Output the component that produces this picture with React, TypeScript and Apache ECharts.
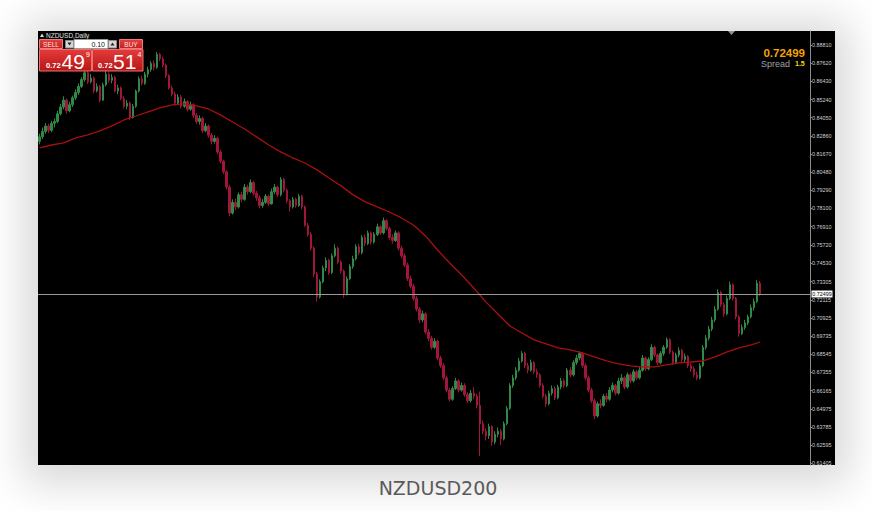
import React, { useEffect, useRef } from "react";
import * as echarts from "echarts";

const symbolTitle = "NZDUSD,Daily";
const caption = "NZDUSD200";
const lastPrice = 0.72499;
const spreadLabel = "Spread";
const spreadValue = "1.5";
const lotSize = "0.10";
const bidParts = ["0.72", "49", "9"];
const askParts = ["0.72", "51", "4"];

const tickValues = [
  0.8881, 0.8762, 0.8643, 0.8524, 0.8405, 0.8286, 0.8167, 0.8048, 0.7929, 0.781,
  0.7691, 0.7572, 0.7453, 0.73305, 0.72115, 0.70925, 0.69735, 0.68545, 0.67355,
  0.66165, 0.64975, 0.63785, 0.62595, 0.61405,
];

// [open, close, low, high]
const candles: number[][] = [
  [0.825, 0.828, 0.823, 0.83], [0.828, 0.8315, 0.8265, 0.834], [0.8315, 0.835, 0.83, 0.837], [0.835, 0.8322, 0.8305, 0.8365],
  [0.8322, 0.8368, 0.831, 0.8385], [0.8368, 0.838, 0.834, 0.84], [0.838, 0.843, 0.837, 0.845], [0.843, 0.8475, 0.842, 0.8495],
  [0.8475, 0.852, 0.846, 0.8545], [0.852, 0.845, 0.843, 0.853], [0.845, 0.849, 0.844, 0.851], [0.849, 0.8535, 0.8475, 0.855],
  [0.8535, 0.857, 0.852, 0.859], [0.857, 0.861, 0.8555, 0.863], [0.861, 0.8655, 0.86, 0.867], [0.8655, 0.87, 0.864, 0.8715],
  [0.87, 0.864, 0.8625, 0.871], [0.864, 0.8665, 0.863, 0.869], [0.8665, 0.858, 0.8565, 0.8675], [0.858, 0.861, 0.857, 0.863],
  [0.861, 0.852, 0.8505, 0.862], [0.852, 0.862, 0.8515, 0.8635], [0.862, 0.869, 0.861, 0.871], [0.869, 0.865, 0.8635, 0.87],
  [0.865, 0.867, 0.863, 0.869], [0.867, 0.858, 0.857, 0.868], [0.858, 0.86, 0.856, 0.862], [0.86, 0.853, 0.852, 0.861],
  [0.853, 0.848, 0.8465, 0.8545], [0.848, 0.85, 0.846, 0.852], [0.85, 0.8405, 0.839, 0.851], [0.8405, 0.848, 0.84, 0.8495],
  [0.848, 0.858, 0.847, 0.859], [0.858, 0.866, 0.857, 0.8675], [0.866, 0.863, 0.8615, 0.868], [0.863, 0.869, 0.862, 0.8705],
  [0.869, 0.872, 0.867, 0.874], [0.872, 0.876, 0.8705, 0.8775], [0.876, 0.8735, 0.8715, 0.878], [0.8735, 0.882, 0.8725, 0.8835],
  [0.882, 0.879, 0.8775, 0.883], [0.879, 0.875, 0.8735, 0.8805], [0.875, 0.868, 0.8665, 0.876], [0.868, 0.86, 0.859, 0.869],
  [0.86, 0.856, 0.8545, 0.8615], [0.856, 0.85, 0.8485, 0.8575], [0.85, 0.854, 0.849, 0.856], [0.854, 0.848, 0.8465, 0.8555],
  [0.848, 0.851, 0.847, 0.853], [0.851, 0.846, 0.8445, 0.852], [0.846, 0.849, 0.845, 0.851], [0.849, 0.842, 0.8405, 0.85],
  [0.842, 0.838, 0.8365, 0.8435], [0.838, 0.84, 0.836, 0.842], [0.84, 0.832, 0.8305, 0.841], [0.832, 0.835, 0.831, 0.837],
  [0.835, 0.829, 0.8275, 0.836], [0.829, 0.825, 0.823, 0.8305], [0.825, 0.827, 0.8235, 0.829], [0.827, 0.818, 0.8165, 0.828],
  [0.818, 0.812, 0.8105, 0.8195], [0.812, 0.805, 0.8035, 0.813], [0.805, 0.795, 0.7935, 0.806], [0.795, 0.778, 0.776, 0.7965],
  [0.778, 0.785, 0.777, 0.787], [0.785, 0.782, 0.78, 0.7875], [0.782, 0.79, 0.781, 0.7915], [0.79, 0.787, 0.785, 0.792],
  [0.787, 0.795, 0.786, 0.797], [0.795, 0.792, 0.79, 0.7965], [0.792, 0.798, 0.791, 0.8], [0.798, 0.791, 0.7895, 0.799],
  [0.791, 0.788, 0.786, 0.7925], [0.788, 0.783, 0.781, 0.7895], [0.783, 0.785, 0.7815, 0.787], [0.785, 0.789, 0.784, 0.7905],
  [0.789, 0.784, 0.7825, 0.79], [0.784, 0.792, 0.7835, 0.794], [0.792, 0.795, 0.7905, 0.797], [0.795, 0.79, 0.7885, 0.796],
  [0.79, 0.8, 0.789, 0.8015], [0.8, 0.793, 0.7915, 0.801], [0.793, 0.786, 0.7845, 0.794], [0.786, 0.782, 0.779, 0.787],
  [0.782, 0.787, 0.781, 0.7885], [0.787, 0.783, 0.7815, 0.788], [0.783, 0.789, 0.782, 0.7905], [0.789, 0.782, 0.7805, 0.79],
  [0.782, 0.77, 0.769, 0.783], [0.77, 0.764, 0.7625, 0.7715], [0.764, 0.755, 0.7535, 0.7655], [0.755, 0.738, 0.736, 0.756],
  [0.738, 0.723, 0.72, 0.7395], [0.723, 0.733, 0.722, 0.7345], [0.733, 0.742, 0.732, 0.7435], [0.742, 0.747, 0.74, 0.749],
  [0.747, 0.739, 0.7375, 0.748], [0.739, 0.75, 0.738, 0.7515], [0.75, 0.755, 0.749, 0.7575], [0.755, 0.746, 0.7445, 0.756],
  [0.746, 0.74, 0.7385, 0.747], [0.74, 0.725, 0.7225, 0.741], [0.725, 0.735, 0.724, 0.7365], [0.735, 0.743, 0.734, 0.7445],
  [0.743, 0.748, 0.7415, 0.75], [0.748, 0.756, 0.747, 0.7575], [0.756, 0.752, 0.7505, 0.758], [0.752, 0.762, 0.751, 0.7635],
  [0.762, 0.758, 0.7565, 0.764], [0.758, 0.765, 0.757, 0.7665], [0.765, 0.759, 0.7575, 0.766], [0.759, 0.764, 0.758, 0.7655],
  [0.764, 0.769, 0.763, 0.771], [0.769, 0.765, 0.7635, 0.77], [0.765, 0.773, 0.764, 0.775], [0.773, 0.768, 0.7665, 0.774],
  [0.768, 0.762, 0.7605, 0.769], [0.762, 0.76, 0.758, 0.764], [0.76, 0.765, 0.759, 0.7665], [0.765, 0.755, 0.7535, 0.766],
  [0.755, 0.75, 0.7485, 0.7565], [0.75, 0.744, 0.7425, 0.7515], [0.744, 0.735, 0.7335, 0.7455], [0.735, 0.73, 0.7285, 0.737],
  [0.73, 0.722, 0.7205, 0.7315], [0.722, 0.715, 0.7135, 0.7235], [0.715, 0.708, 0.706, 0.7165], [0.708, 0.712, 0.7065, 0.714],
  [0.712, 0.7, 0.6985, 0.713], [0.7, 0.696, 0.694, 0.702], [0.696, 0.69, 0.6885, 0.6975], [0.69, 0.694, 0.689, 0.696],
  [0.694, 0.683, 0.6815, 0.695], [0.683, 0.678, 0.6765, 0.6845], [0.678, 0.67, 0.6685, 0.6795], [0.67, 0.662, 0.6605, 0.6715],
  [0.662, 0.656, 0.6545, 0.6635], [0.656, 0.663, 0.655, 0.6645], [0.663, 0.668, 0.662, 0.67], [0.668, 0.662, 0.6605, 0.669],
  [0.662, 0.665, 0.661, 0.667], [0.665, 0.659, 0.6575, 0.6665], [0.659, 0.655, 0.6535, 0.6605], [0.655, 0.66, 0.654, 0.662],
  [0.66, 0.658, 0.656, 0.664], [0.658, 0.652, 0.65, 0.6595], [0.652, 0.64, 0.6187, 0.661], [0.64, 0.635, 0.633, 0.642],
  [0.635, 0.632, 0.629, 0.637], [0.632, 0.638, 0.63, 0.64], [0.638, 0.628, 0.6255, 0.639], [0.628, 0.633, 0.6265, 0.635],
  [0.633, 0.635, 0.631, 0.6375], [0.635, 0.63, 0.626, 0.6365], [0.63, 0.64, 0.629, 0.6415], [0.64, 0.65, 0.639, 0.6515],
  [0.65, 0.665, 0.649, 0.6665], [0.665, 0.67, 0.6635, 0.672], [0.67, 0.675, 0.6685, 0.677], [0.675, 0.681, 0.674, 0.683],
  [0.681, 0.686, 0.68, 0.6875], [0.686, 0.678, 0.6765, 0.687], [0.678, 0.675, 0.673, 0.68], [0.675, 0.68, 0.674, 0.682],
  [0.68, 0.674, 0.6725, 0.681], [0.674, 0.672, 0.67, 0.676], [0.672, 0.665, 0.6635, 0.673], [0.665, 0.658, 0.6565, 0.6665],
  [0.658, 0.653, 0.651, 0.6595], [0.653, 0.66, 0.652, 0.6615], [0.66, 0.663, 0.6585, 0.665], [0.663, 0.657, 0.6555, 0.6645],
  [0.657, 0.664, 0.656, 0.6655], [0.664, 0.668, 0.6625, 0.67], [0.668, 0.665, 0.6635, 0.6695], [0.665, 0.675, 0.664, 0.6765],
  [0.675, 0.672, 0.6705, 0.677], [0.672, 0.68, 0.671, 0.6815], [0.68, 0.683, 0.6785, 0.685], [0.683, 0.686, 0.6815, 0.6875],
  [0.686, 0.678, 0.6765, 0.687], [0.678, 0.67, 0.6685, 0.6795], [0.67, 0.662, 0.6605, 0.6715], [0.662, 0.655, 0.6535, 0.6635],
  [0.655, 0.645, 0.643, 0.6565], [0.645, 0.653, 0.644, 0.6545], [0.653, 0.652, 0.65, 0.656], [0.652, 0.658, 0.651, 0.6595],
  [0.658, 0.656, 0.654, 0.66], [0.656, 0.662, 0.655, 0.664], [0.662, 0.665, 0.6605, 0.667], [0.665, 0.66, 0.6585, 0.666],
  [0.66, 0.668, 0.659, 0.67], [0.668, 0.67, 0.666, 0.6725], [0.67, 0.664, 0.6625, 0.671], [0.664, 0.672, 0.663, 0.6735],
  [0.672, 0.668, 0.6665, 0.673], [0.668, 0.674, 0.667, 0.6755], [0.674, 0.67, 0.6685, 0.675], [0.67, 0.675, 0.669, 0.677],
  [0.675, 0.683, 0.674, 0.685], [0.683, 0.676, 0.6745, 0.684], [0.676, 0.682, 0.675, 0.6835], [0.682, 0.69, 0.681, 0.692],
  [0.69, 0.685, 0.6835, 0.691], [0.685, 0.68, 0.6785, 0.686], [0.68, 0.686, 0.679, 0.6875], [0.686, 0.69, 0.6845, 0.6915],
  [0.69, 0.695, 0.689, 0.6965], [0.695, 0.687, 0.6855, 0.696], [0.687, 0.68, 0.6785, 0.688], [0.68, 0.685, 0.679, 0.6865],
  [0.685, 0.688, 0.6835, 0.69], [0.688, 0.682, 0.6805, 0.689], [0.682, 0.684, 0.68, 0.686], [0.684, 0.678, 0.6765, 0.685],
  [0.678, 0.676, 0.674, 0.6795], [0.676, 0.672, 0.6705, 0.6775], [0.672, 0.67, 0.6685, 0.674], [0.67, 0.678, 0.669, 0.6795],
  [0.678, 0.69, 0.677, 0.6915], [0.69, 0.696, 0.6885, 0.698], [0.696, 0.702, 0.6945, 0.704], [0.702, 0.708, 0.7005, 0.71],
  [0.708, 0.715, 0.7065, 0.717], [0.715, 0.726, 0.714, 0.728], [0.726, 0.718, 0.7165, 0.727], [0.718, 0.712, 0.71, 0.7195],
  [0.712, 0.722, 0.711, 0.724], [0.722, 0.731, 0.721, 0.733], [0.731, 0.722, 0.7205, 0.732], [0.722, 0.71, 0.7085, 0.723],
  [0.71, 0.699, 0.697, 0.711], [0.699, 0.703, 0.698, 0.705], [0.703, 0.706, 0.7015, 0.708], [0.706, 0.71, 0.7045, 0.7115],
  [0.71, 0.716, 0.709, 0.718], [0.716, 0.72, 0.714, 0.722], [0.72, 0.732, 0.719, 0.734], [0.732, 0.725, 0.7235, 0.7335],
];

// 200-period moving average, read every 4th bar (plus the last bar)
const maEvery = 4;
const maValues = [
  0.8207, 0.8226, 0.824, 0.8272, 0.8292, 0.8318, 0.8351, 0.839, 0.8416, 0.8443,
  0.8469, 0.8489, 0.8495, 0.8482, 0.8462, 0.8423, 0.8377, 0.8331, 0.8279, 0.8226,
  0.8181, 0.8141, 0.8108, 0.8063, 0.801, 0.7958, 0.7899, 0.7853, 0.782, 0.7787,
  0.7748, 0.7702, 0.763, 0.7538, 0.7453, 0.7374, 0.7289, 0.7198, 0.7119, 0.704,
  0.6994, 0.6949, 0.6922, 0.6896, 0.6883, 0.6863, 0.6837, 0.6811, 0.6791, 0.6778,
  0.6772, 0.6772, 0.6785, 0.6798, 0.6804, 0.6811, 0.6837, 0.687, 0.6896, 0.6916,
];
const maLast = 0.6935;
const emptySlots = 16;

export default function App() {
  const ref = useRef<HTMLDivElement>(null);

  useEffect(() => {
    if (!ref.current) return;
    const chart = echarts.init(ref.current, null, { renderer: "svg" });
    const cats = Array.from({ length: candles.length + emptySlots }, (_, i) => String(i));
    const maData: (number | null)[] = candles.map(() => null);
    maValues.forEach((v, k) => {
      maData[k * maEvery] = v;
    });
    maData[candles.length - 1] = maLast;

    const redGrad = new echarts.graphic.LinearGradient(0, 0, 0, 1, [
      { offset: 0, color: "#e53a3a" },
      { offset: 1, color: "#b71616" },
    ]);
    const btnGrad = new echarts.graphic.LinearGradient(0, 0, 0, 1, [
      { offset: 0, color: "#e34040" },
      { offset: 1, color: "#c42020" },
    ]);
    const font = "Liberation Sans";
    const txt = (text: string, x: number, y: number, size: number, fill: string, extra: any = {}) => ({
      type: "text",
      x,
      y,
      z: 100,
      style: {
        text,
        fill,
        fontSize: size,
        fontFamily: font,
        textVerticalAlign: "middle",
        ...extra,
      },
    });
    const rect = (x: number, y: number, w: number, h: number, fill: any, stroke?: string) => ({
      type: "rect",
      z: 100,
      shape: { x, y, width: w, height: h },
      style: { fill, stroke: stroke || null, lineWidth: 1 },
    });

    const graphic: any[] = [
      { type: "polygon", z: 100, shape: { points: [[728, 31], [735, 31], [731.5, 35]] }, style: { fill: "#8795a3" } },
      { type: "polygon", z: 100, shape: { points: [[40, 37], [44, 37], [42, 33.5]] }, style: { fill: "#d8d8d8" } },
      txt(symbolTitle, 46, 35.5, 6.5, "#e0e0e0"),
      rect(39.5, 39.5, 23, 9, btnGrad, "#f07a7a"),
      txt("SELL", 51, 44.2, 6.5, "#ffe0e0", { textAlign: "center" }),
      rect(65.5, 40.5, 8, 7.5, "#d6d6d6", "#888"),
      { type: "polygon", z: 101, shape: { points: [[67.5, 42.5], [71.5, 42.5], [69.5, 45.5]] }, style: { fill: "#222" } },
      rect(74, 39.5, 34, 9, "#ffffff", "#999"),
      txt(lotSize, 105, 44.2, 7, "#111", { textAlign: "right" }),
      rect(108.5, 40.5, 8, 7.5, "#d6d6d6", "#888"),
      { type: "polygon", z: 101, shape: { points: [[110.5, 45.5], [114.5, 45.5], [112.5, 42.5]] }, style: { fill: "#222" } },
      rect(119.5, 39.5, 23, 9, btnGrad, "#f07a7a"),
      txt("BUY", 131, 44.2, 6.5, "#ffe0e0", { textAlign: "center" }),
      rect(39.5, 49.5, 52, 21.5, redGrad, "#f07070"),
      txt(bidParts[0], 46, 65.5, 7.5, "#ffffff", { fontWeight: "bold" }),
      txt(bidParts[1], 61.5, 61, 21, "#ffffff"),
      txt(bidParts[2], 86, 54, 7, "#ffffff"),
      rect(92.5, 49.5, 50.5, 21.5, redGrad, "#f07070"),
      txt(askParts[0], 98, 65.5, 7.5, "#ffffff", { fontWeight: "bold" }),
      txt(askParts[1], 113, 61, 21, "#ffffff"),
      txt(askParts[2], 137.5, 54, 7, "#ffffff"),
      txt(lastPrice.toFixed(5), 805, 53, 11.5, "#f5a300", { textAlign: "right", fontWeight: "bold" }),
      txt(spreadLabel, 761, 63.5, 9, "#a0a0a0"),
      txt(spreadValue, 795, 63, 7, "#ffd800", { fontWeight: "bold" }),
      txt(caption, 438, 488, 19, "#5a5a5a", { textAlign: "center", fontFamily: "DejaVu Sans" }),
    ];

    chart.setOption({
      animation: false,
      backgroundColor: "transparent",
      grid: { left: 38, right: 62, top: 31, bottom: 46 },
      xAxis: {
        type: "category",
        data: cats,
        boundaryGap: true,
        show: false,
      },
      yAxis: {
        type: "value",
        position: "right",
        min: 0.6129,
        max: 0.8973,
        axisLine: { show: true, lineStyle: { color: "#8c8c8c", width: 1 } },
        axisTick: { show: true, customValues: tickValues, length: 2, lineStyle: { color: "#8c8c8c" } },
        axisLabel: {
          customValues: tickValues,
          formatter: (v: number) => v.toFixed(5),
          color: "#d0d0d0",
          fontSize: 5.4,
          fontFamily: font,
          margin: 2,
        },
        splitLine: { show: false },
      },
      series: [
        {
          type: "candlestick",
          data: candles,
          barWidth: 2,
          itemStyle: {
            color: "#2f8a46",
            color0: "#a3163c",
            borderColor: "#2f8a46",
            borderColor0: "#a3163c",
            borderWidth: 1,
          },
        },
        {
          type: "line",
          data: maData,
          connectNulls: true,
          showSymbol: false,
          symbol: "none",
          z: 3,
          lineStyle: { color: "#a80f0f", width: 1.3 },
        },
      ],
      graphic,
    });

    // current-price line and its axis box, placed through the axis scale
    const py = chart.convertToPixel({ yAxisIndex: 0 }, lastPrice) as number;
    const ly = Math.round(py) + 0.5;
    chart.setOption({
      graphic: [
        ...graphic,
        {
          type: "line",
          z: 50,
          shape: { x1: 38, y1: ly, x2: 810, y2: ly },
          style: { stroke: "#9a9a9a", lineWidth: 1 },
        },
        rect(811.5, ly - 4, 21, 7, "#ffffff"),
        txt(lastPrice.toFixed(5), 822, ly - 0.5, 5.4, "#000000", { textAlign: "center" }),
      ],
    });
    return () => chart.dispose();
  }, []);

  return (
    <div style={{ position: "fixed", left: 0, top: 0, width: 872, height: 511, background: "#ffffff", overflow: "hidden" }}>
      <div
        style={{
          position: "absolute",
          left: 38,
          top: 31,
          width: 797,
          height: 434,
          background: "#000000",
          boxShadow: "0 4px 40px 14px rgba(0,0,0,0.16)",
        }}
      />
      <div ref={ref} style={{ position: "absolute", left: 0, top: 0, width: 872, height: 511 }} />
    </div>
  );
}
